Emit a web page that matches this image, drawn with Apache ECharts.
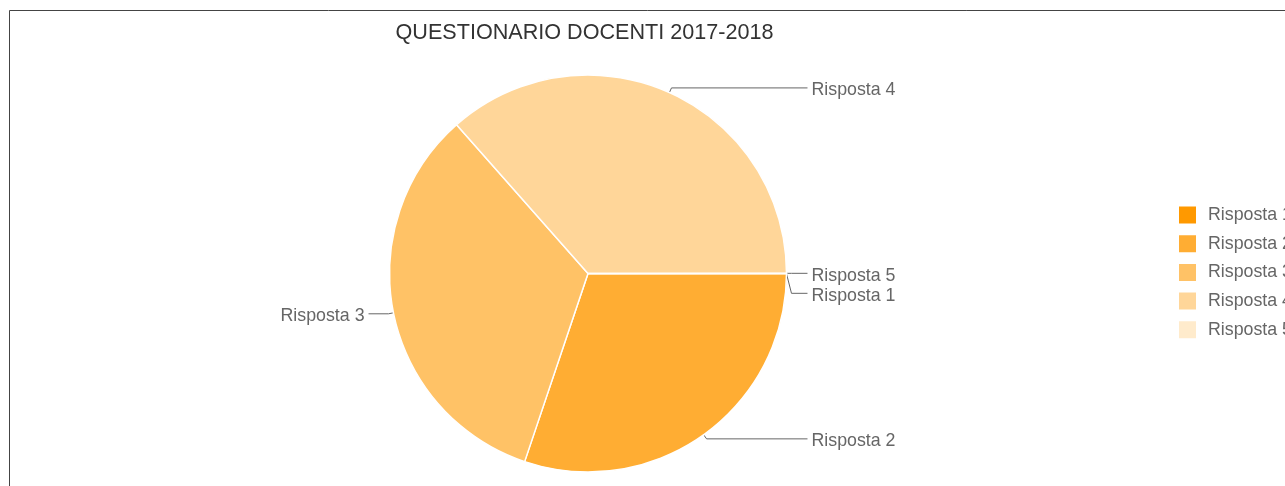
<!DOCTYPE html>
<html>
<head>
<meta charset="utf-8">
<script src="https://cdn.jsdelivr.net/npm/echarts@6/dist/echarts.min.js"></script>
<style>
  html, body { margin: 0; padding: 0; background: #fff; overflow: hidden; }
  #chart { width: 1285px; height: 486px; }
</style>
</head>
<body>
<div id="chart"></div>
<script>
const titleText = 'QUESTIONARIO DOCENTI 2017-2018';
const categories = ['Risposta 1', 'Risposta 2', 'Risposta 3', 'Risposta 4', 'Risposta 5'];
const values = [0, 19, 21, 23, 0];
const palette = ['#ff9900', '#ffad33', '#ffc266', '#ffd699', '#ffebcc'];

const chart = echarts.init(document.getElementById('chart'), null, { renderer: 'canvas' });
const font = '"Liberation Sans", Arial, Helvetica, sans-serif';
const pieCenter = [588, 273.5];

const pieData = categories.map((c, i) => ({
  name: c,
  value: values[i],
  itemStyle: { color: palette[i] }
}));

const option = {
  animation: false,
  backgroundColor: '#fff',
  graphic: [{
    type: 'rect',
    silent: true,
    shape: { x: 9.5, y: 10.5, width: 2000, height: 1000 },
    style: { fill: 'none', stroke: '#444', lineWidth: 1 }
  }],
  title: {
    text: titleText,
    left: 584.5,
    top: 22,
    padding: 0,
    textAlign: 'center',
    textStyle: { fontFamily: font, fontSize: 21.6, fontWeight: 'normal', color: '#333' }
  },
  legend: {
    orient: 'vertical',
    left: 1177,
    top: 204.5,
    padding: 0,
    itemWidth: 19,
    itemHeight: 19,
    itemGap: 7.7,
    icon: 'rect',
    data: categories.map((c, i) => ({ name: c, itemStyle: { color: palette[i] } })),
    textStyle: { fontFamily: font, fontSize: 17.8, color: '#666', padding: [0, 0, 0, 6] }
  },
  series: [{
    type: 'pie',
    center: pieCenter,
    radius: 198.5,
    startAngle: 0,
    clockwise: true,
    minAngle: 0.1,
    avoidLabelOverlap: true,
    data: pieData,
    itemStyle: { borderColor: '#fff', borderWidth: 1.5 },
    label: {
      show: true,
      formatter: '{b}',
      fontFamily: font,
      fontSize: 17.8,
      color: '#666',
      alignTo: 'labelLine',
      distanceToLabelLine: 4
    },
    labelLine: {
      show: true,
      length: 5,
      length2: 16,
      smooth: false,
      lineStyle: { color: '#666', width: 1 }
    },
    labelLayout: function (params) {
      const r = params.labelRect;
      const isLeft = r.x + r.width / 2 < pieCenter[0];
      const out = { dy: 2.5 };
      if (isLeft && params.labelLinePoints) {
        // left-side labels sit a little farther out, with a longer leader
        const pts = params.labelLinePoints.map(p => [p[0], p[1]]);
        pts[pts.length - 1][0] -= 4;
        out.dx = -4;
        out.labelLinePoints = pts;
      }
      return out;
    },
    emphasis: { disabled: true }
  }]
};
chart.setOption(option);
</script>
</body>
</html>
